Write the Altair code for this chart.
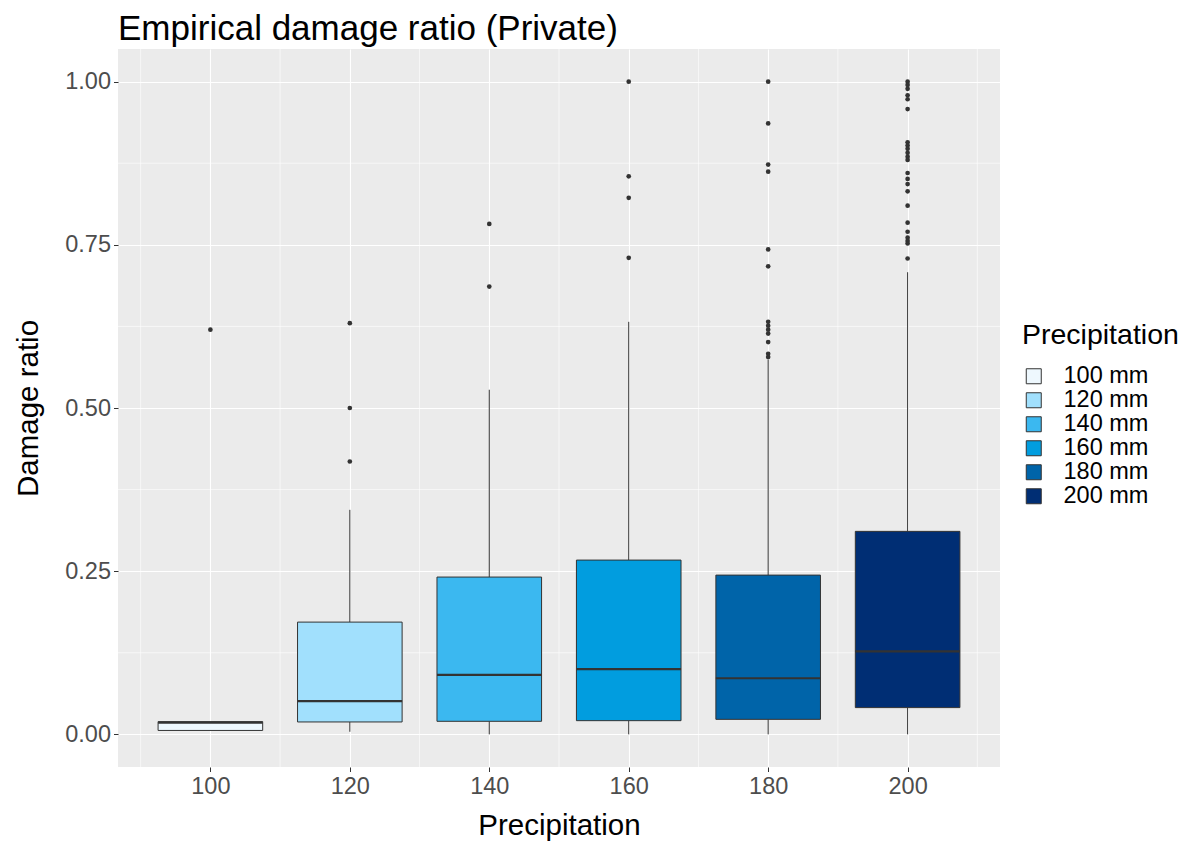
import altair as alt
import pandas as pd

# ---- data ----
precip = [100, 120, 140, 160, 180, 200]
labels = ["100 mm", "120 mm", "140 mm", "160 mm", "180 mm", "200 mm"]
lower = [0.006, 0.004, 0.0, 0.0, 0.0, 0.0]
q1 = [0.006, 0.019, 0.020, 0.021, 0.023, 0.041]
median = [0.018, 0.051, 0.091, 0.100, 0.086, 0.127]
q3 = [0.0195, 0.172, 0.241, 0.267, 0.244, 0.311]
upper = [0.0195, 0.344, 0.528, 0.632, 0.574, 0.708]

out_100 = [0.620]
out_120 = [0.630, 0.500, 0.418]
out_140 = [0.782, 0.686]
out_160 = [1.0, 0.855, 0.822, 0.730]
out_180 = [1.0, 0.936, 0.873, 0.862, 0.743, 0.717, 0.632, 0.626, 0.620,
           0.614, 0.601, 0.583, 0.578]
out_200 = [1.0, 0.995, 0.989, 0.979, 0.973, 0.958, 0.907, 0.902, 0.897,
           0.891, 0.885, 0.880, 0.860, 0.851, 0.843, 0.832, 0.810, 0.784,
           0.770, 0.761, 0.756, 0.752, 0.729]

colors = ["#EEF8FE", "#A1E0FD", "#3BB8F0", "#019DDF", "#0064A9", "#002E74"]

x_ticks = [100, 120, 140, 160, 180, 200]
x_minor = [90, 110, 130, 150, 170, 190, 210]
y_ticks = [0, 0.25, 0.5, 0.75, 1.0]
y_minor = [0.125, 0.375, 0.625, 0.875]

FONT = "Liberation Sans"
DARK = "#333333"

stats = pd.DataFrame({"precip": precip, "label": labels, "lower": lower,
                      "q1": q1, "median": median, "q3": q3, "upper": upper})
outs = []
for p, vals in zip(precip, [out_100, out_120, out_140, out_160, out_180, out_200]):
    for v in vals:
        outs.append({"precip": p, "value": v})
outliers = pd.DataFrame(outs)

xscale = alt.Scale(domain=[86.75, 213.25], nice=False, zero=False)
yscale = alt.Scale(domain=[-0.05, 1.05], nice=False, zero=False)

xaxis = alt.Axis(values=x_ticks, format="d", title="Precipitation")
yaxis = alt.Axis(values=y_ticks, format=".2f", title="Damage ratio")

minor_x = alt.Chart(pd.DataFrame({"x": x_minor})).mark_rule(
    color="white", strokeWidth=0.6).encode(x=alt.X("x:Q", scale=xscale, axis=xaxis))
minor_y = alt.Chart(pd.DataFrame({"y": y_minor})).mark_rule(
    color="white", strokeWidth=0.6).encode(y=alt.Y("y:Q", scale=yscale, axis=yaxis))

base = alt.Chart(stats).transform_calculate(
    lo="datum.precip - 7.5", hi="datum.precip + 7.5")

whisk_up = base.mark_rule(color=DARK, strokeWidth=1).encode(
    x=alt.X("precip:Q", scale=xscale, axis=xaxis),
    y=alt.Y("q3:Q", scale=yscale, axis=yaxis), y2="upper:Q")
whisk_lo = base.mark_rule(color=DARK, strokeWidth=1).encode(
    x=alt.X("precip:Q", scale=xscale, axis=xaxis),
    y=alt.Y("lower:Q", scale=yscale, axis=yaxis), y2="q1:Q")

boxes = base.mark_bar(stroke=DARK, strokeWidth=1, opacity=1).encode(
    x=alt.X("lo:Q", scale=xscale, axis=xaxis), x2="hi:Q",
    y=alt.Y("q1:Q", scale=yscale, axis=yaxis), y2="q3:Q",
    color=alt.Color("label:N", scale=alt.Scale(domain=labels, range=colors),
                    legend=alt.Legend(title="Precipitation", orient="none",
                                      legendX=904, legendY=272)))

med = base.mark_rule(color=DARK, strokeWidth=2.2).encode(
    x=alt.X("lo:Q", scale=xscale, axis=xaxis), x2="hi:Q",
    y=alt.Y("median:Q", scale=yscale, axis=yaxis))

pts = alt.Chart(outliers).mark_circle(color=DARK, size=22, opacity=1).encode(
    x=alt.X("precip:Q", scale=xscale, axis=xaxis),
    y=alt.Y("value:Q", scale=yscale, axis=yaxis))

chart = alt.layer(minor_x, minor_y, whisk_up, whisk_lo, boxes, med, pts).properties(
    width=882, height=718,
    title=alt.TitleParams("Empirical damage ratio (Private)", anchor="start",
                          frame="group", fontSize=35, font=FONT,
                          fontWeight="normal", color="black", offset=2),
    autosize=alt.AutoSizeParams(type="none"),
    padding={"left": 110, "top": 41, "right": 183, "bottom": 75},
).configure_view(fill="#EBEBEB", stroke=None).configure_axis(
    grid=True, gridColor="white", gridWidth=1.1, domain=False,
    tickColor=DARK, tickSize=4.5, tickWidth=1,
    labelFont=FONT, labelFontSize=23.5, labelColor="#4D4D4D", labelPadding=3,
    titleFont=FONT, titleFontSize=29.5, titleFontWeight="normal", titleColor="black",
).configure_axisX(titlePadding=13).configure_axisY(titlePadding=21).configure_legend(
    titleFont=FONT, titleFontSize=28.5, titleFontWeight="normal", titleColor="black",
    labelFont=FONT, labelFontSize=23.5, labelColor="black",
    symbolType="square", symbolSize=225, symbolStrokeColor=DARK,
    symbolStrokeWidth=1, symbolOpacity=1, rowPadding=-3.6, labelOffset=18,
    titlePadding=15,
)

chart.save("out.html", embed_options={"renderer": "svg", "actions": False})
